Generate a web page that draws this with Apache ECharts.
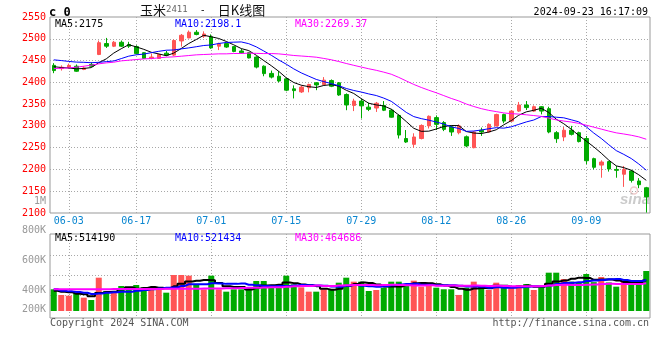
<!DOCTYPE html>
<html>
<head>
<meta charset="utf-8">
<script src="https://cdn.jsdelivr.net/npm/echarts@6/dist/echarts.min.js"></script>
<style>
html,body{margin:0;padding:0;background:#fff;}
#c{width:660px;height:360px;}
</style>
</head>
<body>
<div id="c"></div>
<script>
// ---------- data ----------
const dates = ['05-30','05-31','06-03','06-04','06-05','06-06','06-07','06-11','06-12','06-13',
'06-14','06-17','06-18','06-19','06-20','06-21','06-24','06-25','06-26','06-27',
'06-28','07-01','07-02','07-03','07-04','07-05','07-08','07-09','07-10','07-11',
'07-12','07-15','07-16','07-17','07-18','07-19','07-22','07-23','07-24','07-25',
'07-26','07-29','07-30','07-31','08-01','08-02','08-05','08-06','08-07','08-08',
'08-09','08-12','08-13','08-14','08-15','08-16','08-19','08-20','08-21','08-22',
'08-23','08-26','08-27','08-28','08-29','08-30','09-02','09-03','09-04','09-05',
'09-06','09-09','09-10','09-11','09-12','09-13','09-18','09-19','09-20','09-23'];

const xTickLabels = ['06-03','06-17','07-01','07-15','07-29','08-12','08-26','09-09'];

const openP = [2439,2431.6,2434,2437,2429.5,2441,2464,2489,2483,2492,
2487,2482,2468,2455,2455,2467,2462.5,2495,2502,2515,
2506,2504.6,2483,2489,2482,2472,2468,2458,2437,2420.5,
2414,2408,2385,2378,2387.6,2399,2395,2404,2399,2372,
2347,2357,2343,2341,2347,2336,2324,2271,2257.6,2271,
2300,2319,2307.6,2297.4,2284.4,2275,2250,2290,2286,2300,
2326,2311,2334,2348,2334,2344,2339.5,2284.4,2274.5,2290,
2284.4,2271,2224.8,2210,2218,2200,2189,2196.5,2173.5,2158];

const highP = [2444,2439,2443,2441,2437,2446,2496,2502,2495,2496,
2493,2485,2469,2466,2466,2472,2498.5,2511,2519,2520,
2517,2510,2491,2491,2483,2477,2470,2460,2439,2427,
2426,2410.5,2393,2393,2397,2400.6,2412,2406.7,2400.6,2374.6,
2362.4,2362,2353,2355,2357,2339,2326.5,2290.5,2283,2303.5,
2324,2324,2311,2301,2303.5,2278,2288,2296,2306,2328,
2328,2336.4,2355,2357,2347,2345.6,2344,2288,2297.4,2300,
2286.7,2276.8,2227,2221,2219.5,2208,2208,2199,2180,2160];

const lowP = [2421,2427,2431,2424,2428,2435,2462.5,2479,2481,2481,
2479,2464,2454,2453,2454,2460,2460,2482,2501,2508,
2502,2477,2474,2479,2469,2466,2455,2432,2414,2409,
2400,2379.6,2363,2375.6,2377,2382,2393,2389,2369,2336,
2334,2317,2334,2332,2334,2319,2271,2261,2250,2269,
2294,2290.5,2288,2277,2280.6,2251,2248.5,2277,2284.4,2298.5,
2306,2309,2332,2336.4,2332,2326.5,2283,2261,2265,2278,
2262,2212,2200,2181,2195,2181,2160,2170,2157,2101];

const closeP = [2427,2434.6,2439,2425.5,2433,2437,2491,2483,2492,2483,
2483,2466,2455,2458,2464,2462.5,2496,2508,2515,2510,
2511,2479,2488.5,2481,2471,2468,2456,2435,2420,2412,
2403,2382,2381,2389,2395,2394,2405,2391,2371,2348,
2357,2346,2338,2352,2336,2320,2279,2263,2274.5,2301,
2322,2303.5,2292,2286,2300,2254,2286,2286,2303.5,2326,
2311,2334,2348,2342,2344,2334,2286,2270.6,2290,2280.6,
2264,2220,2205,2217,2201,2198,2200,2175,2165,2137];

const volume = [365,269,257,297,224,185,560,336,314,420,
364,437,398,398,364,308,605,605,594,437,
364,594,364,325,364,364,398,504,504,398,
398,594,448,398,325,325,364,370,476,560,
493,493,336,353,392,493,493,454,510,409,
476,392,365,365,270,392,493,405,353,476,
392,392,437,454,353,392,644,644,538,493,
485,622,485,571,480,409,493,476,521,672].map(v => v * 1000);

// moving-average values at the left edge (they depend on days before the window)
const ma5Lead = [2436,2434,2433,2431];
const ma10Lead = [2451.6,2450,2448,2446.5,2446,2445,2446,2447.5,2449];
const ma30Lead = [2431.6,2432.4,2433.2,2434.7,2437,2439.3,2442.4,2444.7,2446.2,2449.3,
2450.8,2452.3,2453.8,2454.6,2456.2,2457.7,2458.5,2460,2461.5,2463.1,
2463.9,2464.6,2465.4,2465.4,2466.2,2466.2,2467,2466.5,2466];
const volMa5Lead = [341,324,315,290].map(v => v * 1000);
const volMa10Lead = [365,340,330,320,307,285,296,305,315].map(v => v * 1000);
const volMa30Lead = [365,365,365,366,366,366,367,367,368,368,
369,369,370,371,371,372,373,374,375,376,
377,378,380,382,384,386,389,392,395].map(v => v * 1000);

const legendMain = ['MA5:2175','MA10:2198.1','MA30:2269.37'];
const legendVol = ['MA5:514190','MA10:521434','MA30:464686'];

// ---------- build ----------
function movingAvg(vals, n, lead) {
  return vals.map((v, i) => {
    if (i < n - 1) return lead[i];
    let s = 0;
    for (let k = i - n + 1; k <= i; k++) s += vals[k];
    return +(s / n).toFixed(2);
  });
}
const UP = '#ff5555', DOWN = '#00aa00';
const MONO = 'DejaVu Sans Mono';
const tickSet = new Set(xTickLabels);
const showTick = (idx, val) => tickSet.has(val);
const dotted = { color: '#a8a8a8', type: [1, 2], width: 1 };

const kData = openP.map((o, i) => [o, closeP[i], lowP[i], highP[i]]);
const volData = volume.map((v, i) => ({ value: v, itemStyle: { color: closeP[i] >= openP[i] ? UP : DOWN } }));

const chart = echarts.init(document.getElementById('c'), null, { renderer: 'canvas' });

function maLine(name, data, color, xi, yi, width, step) {
  return { name, type: 'line', xAxisIndex: xi, yAxisIndex: yi, data, symbol: 'none', showSymbol: false,
    step: step || false, silent: true, lineStyle: { color, width }, itemStyle: { color } };
}

function txt(x, y, text, fill) {
  return { type: 'text', silent: true, style: { x, y, text, fill,
    font: '10px "' + MONO + '"', verticalAlign: 'middle', align: 'left' } };
}

const graphics = [
  { type: 'text', silent: true, style: { x: 49, y: 12.5, text: 'c 0', fill: '#000',
      font: 'bold 12px "' + MONO + '"', verticalAlign: 'middle' } },
  { type: 'text', silent: true, style: { x: 140, y: 10, verticalAlign: 'middle',
      text: '{a|玉米}{b|2411}{c|  -  }{a|日K线图}',
      rich: {
        a: { fontFamily: 'Noto Sans CJK SC', fontSize: 13, fill: '#111' },
        b: { fontFamily: MONO, fontSize: 9, fill: '#666' },
        c: { fontFamily: MONO, fontSize: 10, fill: '#111' }
      } } },
  { type: 'text', silent: true, style: { x: 648, y: 12.5, text: '2024-09-23 16:17:09', fill: '#000',
      font: '10px "' + MONO + '"', verticalAlign: 'middle', align: 'right' } },
  txt(55, 24, legendMain[0], '#000'),
  txt(175, 24, legendMain[1], '#0000ff'),
  txt(295, 24, legendMain[2], '#ff00ff'),
  txt(55, 238.5, legendVol[0], '#000'),
  txt(175, 238.5, legendVol[1], '#0000ff'),
  txt(295, 238.5, legendVol[2], '#ff00ff'),
  { type: 'text', silent: true, style: { x: 50, y: 323.5, text: 'Copyright 2024 SINA.COM', fill: '#555',
      font: '10px "' + MONO + '"', verticalAlign: 'middle' } },
  { type: 'text', silent: true, style: { x: 649, y: 323.5, text: 'http://finance.sina.com.cn', fill: '#555',
      font: '10px "' + MONO + '"', verticalAlign: 'middle', align: 'right' } },
  { type: 'circle', silent: true, z: -1, shape: { cx: 634, cy: 190.5, r: 3.5 },
      style: { fill: 'none', stroke: 'rgba(220,140,140,0.45)', lineWidth: 1.5 } },
  { type: 'text', silent: true, z: -1, style: { x: 620, y: 200, text: 'sina', fill: 'rgba(160,160,160,0.55)',
      font: 'italic bold 15px "Liberation Sans"', verticalAlign: 'middle' } }
];

const option = {
  animation: false,
  backgroundColor: '#fff',
  textStyle: { fontFamily: MONO },
  grid: [
    { left: 50, right: 10, top: 17, height: 196, show: true, borderColor: '#999', borderWidth: 1 },
    { left: 50, right: 10, top: 234, height: 84, show: true, borderColor: '#999', borderWidth: 1 },
    { left: 50, right: 10, top: 201, height: 119.5, show: false },
    { left: 50, right: 10, top: 235.5, height: 80, show: false }
  ],
  xAxis: [
    { type: 'category', gridIndex: 0, data: dates, boundaryGap: true,
      axisLine: { show: false }, axisTick: { show: false },
      axisLabel: { interval: showTick, color: '#0a86d0', fontFamily: MONO, fontSize: 10, margin: 3 },
      splitLine: { show: true, interval: showTick, alignWithLabel: true, lineStyle: dotted } },
    { type: 'category', gridIndex: 1, data: dates, boundaryGap: true,
      axisLine: { show: false }, axisTick: { show: false }, axisLabel: { show: false },
      splitLine: { show: true, interval: showTick, alignWithLabel: true, lineStyle: dotted } },
    { type: 'value', gridIndex: 2, show: false },
    { type: 'value', gridIndex: 3, show: false }
  ],
  yAxis: [
    { type: 'value', gridIndex: 0, min: 2100, max: 2550, interval: 50,
      axisLine: { show: false }, axisTick: { show: false },
      axisLabel: { color: '#ff0000', fontFamily: MONO, fontSize: 10, margin: 4, formatter: v => String(v) },
      splitLine: { show: true, showMinLine: false, showMaxLine: false, lineStyle: dotted } },
    { type: 'value', gridIndex: 1, min: -117600, max: 1294200,
      axisLine: { show: false }, axisTick: { show: false }, axisLabel: { show: false }, splitLine: { show: false } },
    { type: 'value', gridIndex: 2, min: 200000, max: 1000000, interval: 200000,
      axisLine: { show: false }, axisTick: { show: false }, splitLine: { show: false },
      axisLabel: { color: '#999', fontFamily: MONO, fontSize: 10, margin: 4,
        formatter: v => v >= 1000000 ? '1M' : (v <= 200000 ? '{s|' + (v / 1000) + 'K}' : (v / 1000) + 'K'),
        rich: { s: { color: '#999', fontFamily: MONO, fontSize: 10, padding: [0, 0, 22, 0] } } } },
    { type: 'value', gridIndex: 3, min: 0, max: 80, interval: 20,
      axisLine: { show: false }, axisTick: { show: false }, axisLabel: { show: false },
      splitLine: { show: true, showMinLine: false, showMaxLine: false, lineStyle: dotted } }
  ],
  series: [
    { name: 'K', type: 'candlestick', xAxisIndex: 0, yAxisIndex: 0, data: kData, barWidth: 4, silent: true,
      itemStyle: { color: UP, color0: DOWN, borderColor: UP, borderColor0: DOWN, borderWidth: 1 } },
    maLine('MA5', movingAvg(closeP, 5, ma5Lead), '#000000', 0, 0, 1),
    maLine('MA10', movingAvg(closeP, 10, ma10Lead), '#0000ff', 0, 0, 1),
    maLine('MA30', movingAvg(closeP, 30, ma30Lead), '#ff00ff', 0, 0, 1),
    { name: 'VOL', type: 'bar', xAxisIndex: 1, yAxisIndex: 1, data: volData, barWidth: 6, silent: true },
    maLine('VMA5', movingAvg(volume, 5, volMa5Lead), '#000000', 1, 1, 2, 'middle'),
    maLine('VMA10', movingAvg(volume, 10, volMa10Lead), '#0000ff', 1, 1, 2, 'middle'),
    maLine('VMA30', movingAvg(volume, 30, volMa30Lead), '#ff00ff', 1, 1, 2, 'middle')
  ],
  graphic: graphics
};
chart.setOption(option);
</script>
</body>
</html>
